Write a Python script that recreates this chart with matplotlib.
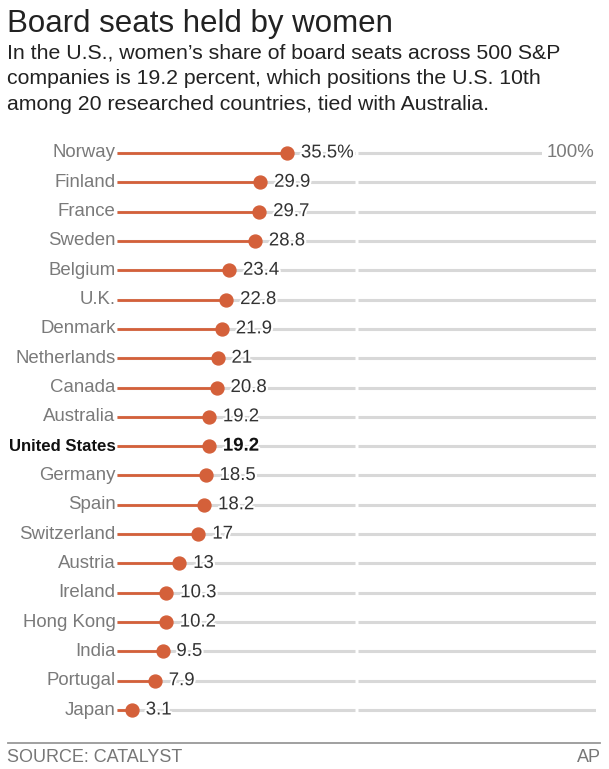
import matplotlib.pyplot as plt
import matplotlib.patheffects as pe

countries = ['Norway', 'Finland', 'France', 'Sweden', 'Belgium', 'U.K.', 'Denmark',
             'Netherlands', 'Canada', 'Australia', 'United States', 'Germany', 'Spain',
             'Switzerland', 'Austria', 'Ireland', 'Hong Kong', 'India', 'Portugal', 'Japan']
shares = [35.5, 29.9, 29.7, 28.8, 23.4, 22.8, 21.9, 21, 20.8, 19.2, 19.2, 18.5, 18.2,
          17, 13, 10.3, 10.2, 9.5, 7.9, 3.1]
value_labels = ['35.5%', '29.9', '29.7', '28.8', '23.4', '22.8', '21.9', '21', '20.8',
                '19.2', '19.2', '18.5', '18.2', '17', '13', '10.3', '10.2', '9.5', '7.9', '3.1']
intro_lines = ["In the U.S., women\u2019s share of board seats across 500 S&P",
               "companies is 19.2 percent, which positions the U.S. 10th",
               "among 20 researched countries, tied with Australia."]

plt.rcParams['font.family'] = ['Liberation Sans', 'DejaVu Sans']

orange = '#d4603a'
grey = '#d8d8d8'

W, H = 609, 769
fig = plt.figure(figsize=(W / 100, H / 100), dpi=100)

# title + intro
fig.text(7 / W, 1 - 24 / H, 'Board seats held by women', fontsize=22.5, color='#222222',
         va='center', ha='left')
for k, line in enumerate(intro_lines):
    fig.text(7 / W, 1 - (53 + 25.5 * k) / H, line, fontsize=15.3, color='#222222',
             va='center', ha='left')

# chart area: x 0..100 -> px 117..596, rows 153..710
ax = fig.add_axes([117 / W, 1 - 724.7 / H, 479 / W, 586.4 / H])
ax.set_xlim(0, 100)
ax.set_ylim(len(countries) - 0.5, -0.5)
ax.axis('off')

stroke = [pe.withStroke(linewidth=3, foreground='white')]

for i, (c, v, lab) in enumerate(zip(countries, shares, value_labels)):
    us = c == 'United States'
    # grey background track, split at 50
    ax.plot([0, 49.6], [i, i], color=grey, lw=2.2, solid_capstyle='butt', zorder=1)
    ax.plot([50.4, 100], [i, i], color=grey, lw=2.2, solid_capstyle='butt', zorder=1)
    ax.plot([0, v], [i, i], color=orange, lw=2.0, solid_capstyle='butt', zorder=2)
    ax.plot(v, i, 'o', color=orange, markersize=9.3, zorder=3)
    ax.text(v + 2.9, i, lab, fontsize=13.4, color='#111111' if us else '#333333',
            fontweight='bold' if us else 'normal', va='center', ha='left',
            path_effects=stroke, zorder=4)
    ax.text(-0.3, i, c, fontsize=12.1 if us else 13.4, color='#111111' if us else '#7a7a7a',
            fontweight='bold' if us else 'normal', va='center', ha='right',
            zorder=4)

ax.text(99.7, 0, '100%', fontsize=13.4, color='#7a7a7a', va='center', ha='right',
        bbox=dict(facecolor='white', edgecolor='none', pad=3.5), zorder=5)

# footer
fig.add_artist(plt.Line2D([8 / W, 600 / W], [1 - 743 / H, 1 - 743 / H],
                          color='#999999', lw=1.3))
fig.text(7 / W, 1 - 757 / H, 'SOURCE: CATALYST', fontsize=13, color='#777777',
         va='center', ha='left')
fig.text(601 / W, 1 - 757 / H, 'AP', fontsize=13, color='#777777', va='center', ha='right')

fig.savefig('out.png', dpi=100, facecolor='white')
